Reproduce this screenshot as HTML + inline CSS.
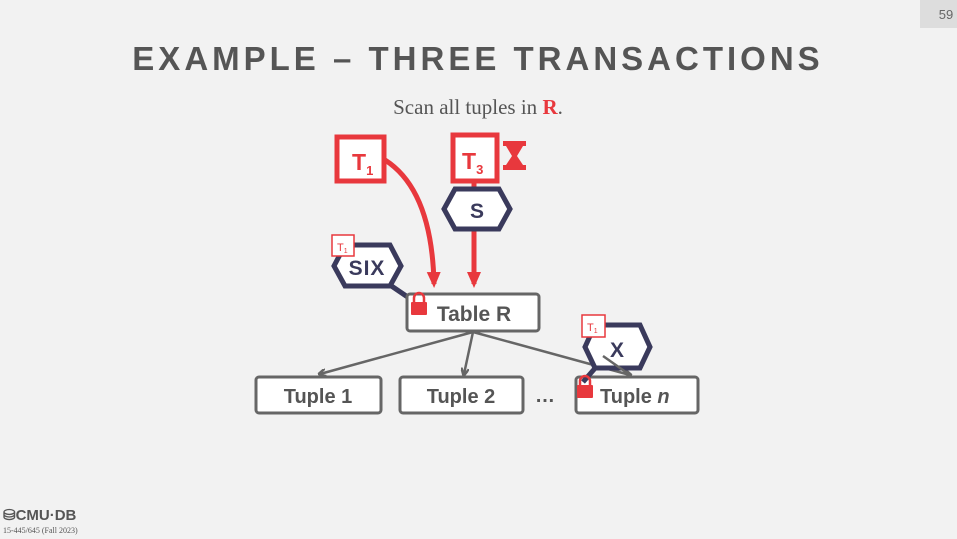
<!DOCTYPE html>
<html><head><style>
body{margin:0;width:957px;height:539px;background:#f2f2f2;overflow:hidden;font-family:"Liberation Sans",sans-serif}
</style></head><body>
<svg width="957" height="539" xmlns="http://www.w3.org/2000/svg" style="position:absolute;left:0;top:0">
<defs>
<marker id="ar" markerWidth="8" markerHeight="8" refX="6" refY="4" orient="auto" markerUnits="userSpaceOnUse"><path d="M0,0 L8,4 L0,8" fill="none" stroke="#666" stroke-width="2.5"/></marker>
<marker id="rr" markerWidth="16" markerHeight="14" refX="12" refY="7" orient="auto" markerUnits="userSpaceOnUse"><path d="M0,0 L16,7 L0,14 Z" fill="#e8383d"/></marker>
</defs>
<rect x="920" y="0" width="37" height="28" fill="#ddd"/>
<text x="946" y="19" font-size="13" fill="#666" text-anchor="middle">59</text>
<text x="478" y="70" font-size="33" font-weight="bold" fill="#555" text-anchor="middle" letter-spacing="4">EXAMPLE – THREE TRANSACTIONS</text>
<text x="478" y="114" font-size="21" fill="#555" text-anchor="middle" font-family="Liberation Serif,serif">Scan all tuples in <tspan fill="#e8383d" font-weight="bold">R</tspan>.</text>
<g stroke="#666" stroke-width="2.5" fill="none">
<line x1="473" y1="332" x2="320" y2="374" marker-end="url(#ar)"/>
<line x1="473" y1="332" x2="464" y2="374" marker-end="url(#ar)"/>
<line x1="473" y1="332" x2="630" y2="375" marker-end="url(#ar)"/>
</g>
<path d="M385,160 Q432,190 434,284" stroke="#e8383d" stroke-width="5" fill="none" marker-end="url(#rr)"/>
<line x1="474" y1="180" x2="474" y2="284" stroke="#e8383d" stroke-width="5" marker-end="url(#rr)"/>
<rect x="337" y="137" width="47" height="44" fill="#fff" stroke="#e8383d" stroke-width="5"/>
<text x="352" y="170" font-size="23" fill="#e8383d" font-weight="bold">T<tspan font-size="13" dy="5">1</tspan></text>
<rect x="453" y="135" width="44" height="46" fill="#fff" stroke="#e8383d" stroke-width="5"/>
<text x="462" y="169" font-size="23" fill="#e8383d" font-weight="bold">T<tspan font-size="13" dy="5">3</tspan></text>
<g fill="#e8383d"><rect x="503" y="141" width="23" height="5"/><rect x="503" y="165" width="23" height="5"/><path d="M506,146 L523,146 L517,156 L523,165 L506,165 L512,156Z"/></g>
<polygon points="455,189 499,189 510,209 499,229 455,229 444,209" fill="#fff" stroke="#3a3a5c" stroke-width="5"/>
<text x="477" y="218" font-size="21" fill="#3a3a5c" text-anchor="middle" font-weight="bold">S</text>
<line x1="390" y1="285" x2="415" y2="302" stroke="#3a3a5c" stroke-width="5"/>
<polygon points="345,245 390,245 401,266 390,286 345,286 334,266" fill="#fff" stroke="#3a3a5c" stroke-width="5"/>
<text x="367" y="275" font-size="21" fill="#3a3a5c" text-anchor="middle" font-weight="bold" letter-spacing="1">SIX</text>
<rect x="332" y="235" width="22" height="21" fill="#fff" stroke="#e8383d" stroke-width="1.5"/>
<text x="337" y="251" font-size="11" fill="#e8383d">T<tspan font-size="7" dy="2">1</tspan></text>
<rect x="407" y="294" width="132" height="37" rx="3" fill="#fff" stroke="#666" stroke-width="3"/>
<text x="474" y="321" font-size="21" fill="#555" text-anchor="middle" font-weight="bold">Table R</text>
<g fill="#e8383d"><path d="M414,302 v-4 a5,5 0 0 1 10,0 v4" fill="none" stroke="#e8383d" stroke-width="2.5"/><rect x="411" y="302" width="16" height="13" rx="1"/></g>
<rect x="256" y="377" width="125" height="36" rx="3" fill="#fff" stroke="#666" stroke-width="3"/>
<text x="318" y="403" font-size="20" fill="#555" text-anchor="middle" font-weight="bold">Tuple 1</text>
<rect x="400" y="377" width="123" height="36" rx="3" fill="#fff" stroke="#666" stroke-width="3"/>
<text x="461" y="403" font-size="20" fill="#555" text-anchor="middle" font-weight="bold">Tuple 2</text>
<text x="545" y="402" font-size="20" fill="#555" text-anchor="middle" font-weight="bold">…</text>
<rect x="576" y="377" width="122" height="36" rx="3" fill="#fff" stroke="#666" stroke-width="3"/>
<text x="600" y="403" font-size="20" fill="#555" font-weight="bold">Tuple <tspan font-style="italic">n</tspan></text>
<line x1="597" y1="366" x2="583" y2="382" stroke="#3a3a5c" stroke-width="5"/>
<polygon points="595,325 640,325 650,347 640,368 595,368 585,347" fill="#fff" stroke="#3a3a5c" stroke-width="5"/>
<line x1="603" y1="356" x2="630" y2="375" stroke="#666" stroke-width="2.5"/>
<text x="617" y="357" font-size="21" fill="#3a3a5c" text-anchor="middle" font-weight="bold">X</text>
<rect x="582" y="315" width="23" height="22" fill="#fff" stroke="#e8383d" stroke-width="1.5"/>
<text x="587" y="331" font-size="11" fill="#e8383d">T<tspan font-size="7" dy="2">1</tspan></text>
<g fill="#e8383d"><path d="M580,385 v-4 a5,5 0 0 1 10,0 v4" fill="none" stroke="#e8383d" stroke-width="2.5"/><rect x="577" y="385" width="16" height="13" rx="1"/></g>
<text x="3" y="520" font-size="15" fill="#555" font-weight="bold">⛁CMU·DB</text>
<text x="3" y="533" font-size="8" fill="#555" font-family="Liberation Serif,serif">15-445/645 (Fall 2023)</text>
</svg>
</body></html>
